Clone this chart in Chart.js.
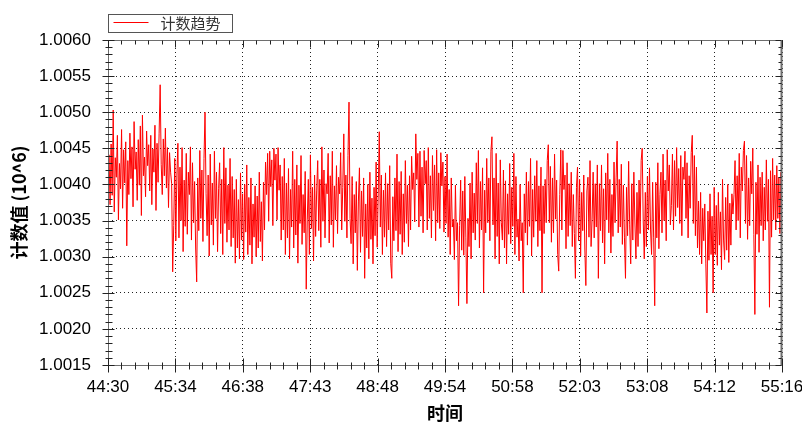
<!DOCTYPE html>
<html>
<head>
<meta charset="utf-8">
<style>
  html, body { margin: 0; padding: 0; background: #fff; }
</style>
</head>
<body>
<canvas id="trendChart" width="802" height="424"></canvas>
<script src="https://cdn.jsdelivr.net/npm/chart.js@4/dist/chart.umd.min.js"></script>
<script>
// count readings (x10^6), stored as 1e-5 above 1.0, one sample per second from 44:30
const countOffsets = [
    398, 441, 372, 456, 385, 503, 362, 437, 410, 468, 351, 429, 394, 476, 367, 448, 402, 459, 315, 433,
    386, 471, 408, 452, 369, 487, 421, 445, 378, 462, 399, 481, 357, 496, 412, 438, 383, 474, 426, 455,
    391, 468, 372, 449, 417, 482, 364, 457, 403, 471, 538, 428, 386, 463, 412, 478, 395, 451, 368, 444,
    417, 401, 279, 343, 436, 322, 413, 457, 326, 424, 350, 451, 307, 406, 342, 443, 331, 417, 386, 452,
    323, 430, 347, 404, 312, 265, 409, 336, 447, 353, 420, 321, 436, 500, 387, 329, 413, 301, 442, 344,
    402, 316, 446, 353, 417, 307, 394, 430, 332, 407, 303, 451, 346, 423, 320, 399, 337, 436, 314, 411,
    326, 393, 291, 407, 312, 379, 297, 416, 323, 387, 296, 400, 334, 427, 303, 382, 316, 409, 290, 373,
    327, 398, 300, 384, 312, 417, 321, 376, 294, 403, 337, 431, 386, 443, 349, 446, 397, 434, 343, 450,
    406, 442, 351, 451, 392, 427, 323, 411, 337, 436, 303, 402, 326, 422, 297, 393, 341, 446, 312, 407,
    330, 427, 291, 399, 346, 440, 317, 386, 333, 418, 255, 351, 407, 303, 441, 339, 396, 294, 413, 328,
    391, 433, 336, 407, 313, 452, 349, 420, 326, 401, 387, 443, 319, 412, 344, 446, 313, 398, 351, 426,
    332, 410, 387, 444, 337, 396, 470, 349, 413, 326, 440, 514, 353, 318, 411, 290, 386, 333, 404, 281,
    377, 423, 306, 391, 328, 409, 270, 373, 312, 400, 297, 417, 324, 381, 290, 396, 329, 431, 313, 387,
    473, 341, 413, 303, 392, 327, 416, 314, 401, 337, 426, 291, 270, 383, 322, 409, 336, 442, 307, 404,
    331, 418, 303, 387, 320, 433, 346, 399, 314, 412, 337, 439, 393, 416, 348, 470, 407, 443, 341, 446,
    356, 424, 333, 447, 401, 433, 337, 451, 353, 412, 326, 440, 364, 427, 322, 448, 347, 416, 339, 444,
    398, 431, 334, 411, 346, 442, 327, 393, 303, 409, 341, 352, 296, 399, 322, 347, 232, 343, 406, 309,
    391, 302, 411, 326, 235, 353, 314, 402, 297, 417, 333, 388, 323, 430, 346, 447, 312, 404, 337, 423,
    250, 392, 333, 436, 347, 409, 322, 446, 466, 344, 409, 297, 443, 328, 402, 290, 434, 347, 323, 420,
    312, 405, 290, 387, 331, 429, 318, 396, 342, 443, 303, 411, 327, 352, 294, 400, 322, 347, 250, 387,
    333, 417, 316, 404, 342, 436, 301, 393, 327, 412, 349, 433, 314, 398, 336, 424, 250, 398, 332, 407,
    347, 433, 455, 347, 425, 320, 409, 333, 442, 352, 406, 303, 280, 386, 448, 337, 447, 393, 413, 311,
    430, 328, 401, 343, 417, 314, 386, 332, 270, 396, 424, 322, 407, 301, 389, 336, 413, 312, 260, 391,
    410, 327, 433, 314, 352, 417, 326, 401, 341, 427, 270, 401, 336, 427, 319, 394, 290, 416, 351, 443,
    333, 407, 305, 386, 328, 431, 347, 409, 460, 333, 407, 341, 428, 317, 399, 326, 270, 396, 329, 432,
    344, 290, 401, 323, 417, 348, 297, 389, 314, 406, 332, 433, 450, 348, 297, 389, 314, 411, 337, 423,
    337, 303, 403, 326, 232, 403, 326, 430, 311, 386, 417, 333, 442, 350, 406, 322, 448, 391, 427, 344,
    371, 442, 337, 433, 356, 451, 368, 422, 346, 440, 329, 424, 407, 446, 353, 430, 326, 412, 367, 444,
    468, 346, 440, 329, 424, 312, 377, 303, 389, 290, 367, 322, 373, 290, 222, 363, 295, 387, 303, 356,
    250, 396, 303, 371, 288, 389, 316, 362, 282, 407, 323, 296, 382, 309, 400, 292, 374, 316, 387, 359,
    386, 433, 337, 412, 350, 443, 326, 424, 391, 447, 460, 346, 440, 324, 409, 343, 432, 387, 450, 331,
    220, 403, 331, 427, 306, 410, 343, 417, 322, 396, 337, 434, 349, 407, 230, 419, 327, 436, 351, 413,
    337, 426, 353, 410, 332, 417, 346
];
const sampleStepSec = 1;
const spanSec = 646;

const xTickLabels = ['44:30', '45:34', '46:38', '47:43', '48:48', '49:54', '50:58', '52:03', '53:08', '54:12', '55:16'];
const yTickValues = [1.0015, 1.0020, 1.0025, 1.0030, 1.0035, 1.0040, 1.0045, 1.0050, 1.0055, 1.0060];

const seriesName = '计数趋势';
const lineColor = '#ff0000';
const frameColor = '#6e6e6e';
const tickColor = '#222222';
const minorPerMajor = 4;

const points = countOffsets.map((v, i) => ({ x: i * sampleStepSec, y: 1 + v * 1e-5 }));
const xStep = spanSec / (xTickLabels.length - 1);

// frame plus the small tick marks on all four sides
const frameTicks = {
    id: 'frameTicks',
    afterDraw(chart) {
        const { ctx, chartArea: a, scales: { x, y } } = chart;
        const L = Math.round(a.left) + 0.5, R = Math.round(a.right) - 0.5;
        const T = Math.round(a.top) + 0.5, B = Math.round(a.bottom) + 0.5;
        const line = (x1, y1, x2, y2) => {
            ctx.beginPath(); ctx.moveTo(x1, y1); ctx.lineTo(x2, y2); ctx.stroke();
        };
        ctx.save();
        ctx.strokeStyle = frameColor;
        ctx.lineWidth = 1;
        line(L, T, R, T);
        line(L, T, L, B);
        line(L, B, R, B);
        ctx.lineWidth = 2;
        line(R, T, R, B);

        ctx.strokeStyle = tickColor;
        ctx.lineWidth = 1;
        const yStep = yTickValues[1] - yTickValues[0];
        yTickValues.forEach((v, i) => {
            const py = Math.round(y.getPixelForValue(v)) + 0.5;
            line(L - 6, py, L + 6, py);
            line(R - 6, py, R, py);
            if (i < yTickValues.length - 1) {
                for (let k = 1; k <= minorPerMajor; k++) {
                    const my = Math.round(y.getPixelForValue(v + yStep * k / (minorPerMajor + 1))) + 0.5;
                    line(L - 3, my, L + 4, my);
                    line(R - 3, my, R, my);
                }
            }
        });
        xTickLabels.forEach((_, i) => {
            const px = Math.round(x.getPixelForValue(i * xStep)) + 0.5;
            line(px, B - 7, px, B + 7);
            line(px, T, px, T + 7);
            if (i < xTickLabels.length - 1) {
                for (let k = 1; k <= minorPerMajor; k++) {
                    const mx = Math.round(x.getPixelForValue((i + k / (minorPerMajor + 1)) * xStep)) + 0.5;
                    line(mx, B - 3, mx, B + 4);
                    line(mx, T, mx, T + 4);
                }
            }
        });
        ctx.restore();
    }
};

// boxed legend sitting above the top-left corner of the plot
const boxLegend = {
    id: 'boxLegend',
    afterDraw(chart) {
        const { ctx, chartArea: a } = chart;
        const ds = chart.data.datasets[0];
        const left = Math.round(a.left) + 0.5;
        ctx.save();
        ctx.fillStyle = '#fff';
        ctx.fillRect(left, 14.5, 124, 18);
        ctx.strokeStyle = '#555';
        ctx.lineWidth = 1;
        ctx.strokeRect(left, 14.5, 124, 18);
        ctx.strokeStyle = ds.borderColor;
        ctx.beginPath();
        ctx.moveTo(left + 5, 22.5);
        ctx.lineTo(left + 40, 22.5);
        ctx.stroke();
        ctx.fillStyle = '#333';
        ctx.font = '15px "Noto Sans CJK SC", sans-serif';
        ctx.textBaseline = 'middle';
        ctx.fillText(ds.label, left + 52, 23.5);
        ctx.restore();
    }
};

const whiteBg = {
    id: 'whiteBg',
    beforeDraw(chart) {
        const ctx = chart.ctx;
        ctx.save();
        ctx.fillStyle = '#fff';
        ctx.fillRect(0, 0, chart.width, chart.height);
        ctx.restore();
    }
};

new Chart(document.getElementById('trendChart').getContext('2d'), {
    type: 'line',
    data: {
        datasets: [{
            label: seriesName,
            data: points,
            borderColor: lineColor,
            borderWidth: 1,
            pointRadius: 0,
            tension: 0,
            fill: false
        }]
    },
    options: {
        responsive: false,
        animation: false,
        layout: { padding: { left: 0, top: 40, right: 20, bottom: 0 } },
        plugins: {
            legend: { display: false },
            tooltip: { enabled: false }
        },
        scales: {
            x: {
                type: 'linear',
                min: 0,
                max: spanSec,
                afterBuildTicks: scale => {
                    scale.ticks = xTickLabels.map((_, i) => ({ value: i * xStep }));
                },
                afterFit: scale => {
                    scale.height = 59;
                    scale.paddingLeft = 0;
                    scale.paddingRight = 0;
                },
                grid: { color: '#222', lineWidth: 1, drawTicks: false },
                border: { display: false, dash: [1, 3] },
                ticks: {
                    autoSkip: false,
                    maxRotation: 0,
                    padding: 12,
                    color: '#000',
                    font: { family: '"Liberation Sans", Arial, sans-serif', size: 17 },
                    callback: (v, i) => xTickLabels[i]
                },
                title: {
                    display: true,
                    text: '时间',
                    color: '#000',
                    padding: { top: 0, bottom: 0 },
                    font: { family: '"Noto Sans CJK SC", sans-serif', size: 18, weight: 'bold' }
                }
            },
            y: {
                min: yTickValues[0],
                max: yTickValues[yTickValues.length - 1],
                afterBuildTicks: scale => {
                    scale.ticks = yTickValues.map(v => ({ value: v }));
                },
                afterFit: scale => {
                    scale.width = 108;
                },
                grid: { color: '#222', lineWidth: 1, drawTicks: false },
                border: { display: false, dash: [1, 3] },
                ticks: {
                    padding: 17,
                    color: '#000',
                    font: { family: '"Liberation Sans", Arial, sans-serif', size: 17 },
                    callback: v => Number(v).toFixed(4)
                },
                title: {
                    display: true,
                    text: '计数值 (10^6)',
                    color: '#000',
                    padding: { top: 8, bottom: 0 },
                    font: { family: '"Noto Sans CJK SC", sans-serif', size: 18, weight: 'bold' }
                }
            }
        }
    },
    plugins: [whiteBg, frameTicks, boxLegend]
});
</script>
</body>
</html>
